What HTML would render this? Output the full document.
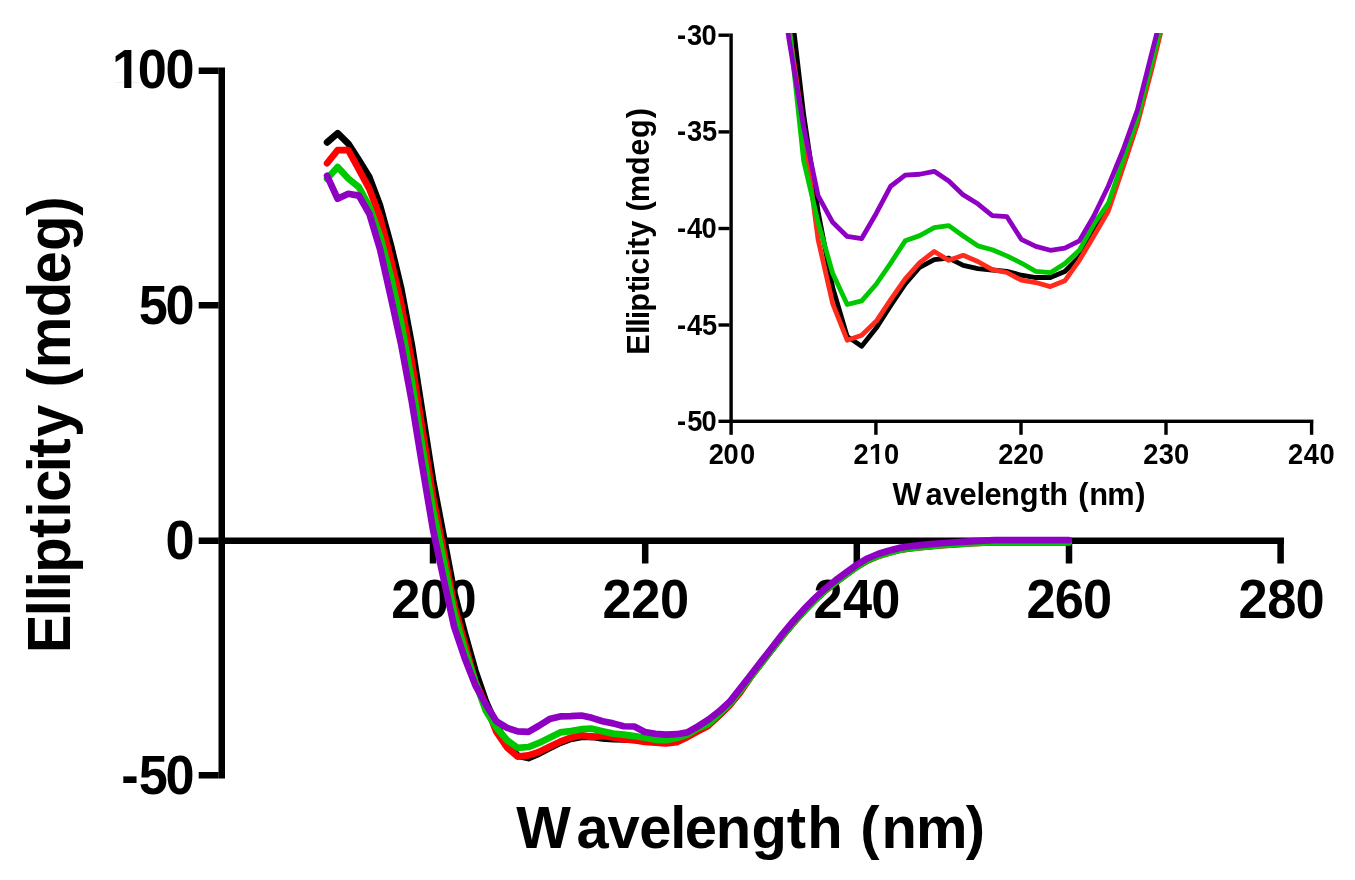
<!DOCTYPE html>
<html lang="en"><head><meta charset="utf-8"><title>Ellipticity vs Wavelength</title>
<style>
html,body{margin:0;padding:0;background:#fff;}
body{width:1355px;height:880px;overflow:hidden;}
svg{display:block;}
text{font-family:"Liberation Sans",Arial,Helvetica,sans-serif;font-weight:bold;fill:#000;}
.cv{fill:none;stroke-linejoin:round;stroke-linecap:round;}
</style></head><body>
<svg width="1355" height="880" viewBox="0 0 1355 880">
<rect width="1355" height="880" fill="#fff"/>
<rect x="218.50" y="67.50" width="6.50" height="711.00" fill="#000"/>
<rect x="218.50" y="537.50" width="1065.50" height="6.50" fill="#000"/>
<rect x="198.70" y="67.50" width="19.90" height="6.50" fill="#000"/>
<rect x="198.70" y="302.00" width="19.90" height="6.50" fill="#000"/>
<rect x="198.70" y="537.50" width="19.90" height="6.50" fill="#000"/>
<rect x="198.70" y="772.00" width="19.90" height="6.50" fill="#000"/>
<rect x="429.75" y="543.90" width="6.50" height="19.60" fill="#000"/>
<rect x="641.95" y="543.90" width="6.50" height="19.60" fill="#000"/>
<rect x="853.55" y="543.90" width="6.50" height="19.60" fill="#000"/>
<rect x="1065.75" y="543.90" width="6.50" height="19.60" fill="#000"/>
<rect x="1277.35" y="543.90" width="6.50" height="19.60" fill="#000"/>
<rect x="729.40" y="33.50" width="3.40" height="401.30" fill="#000"/>
<rect x="718.50" y="419.60" width="594.90" height="3.40" fill="#000"/>
<rect x="718.50" y="33.50" width="11.00" height="3.40" fill="#000"/>
<rect x="718.50" y="130.20" width="11.00" height="3.40" fill="#000"/>
<rect x="718.50" y="226.80" width="11.00" height="3.40" fill="#000"/>
<rect x="718.50" y="323.30" width="11.00" height="3.40" fill="#000"/>
<rect x="874.20" y="422.90" width="3.40" height="11.90" fill="#000"/>
<rect x="1019.30" y="422.90" width="3.40" height="11.90" fill="#000"/>
<rect x="1164.30" y="422.90" width="3.40" height="11.90" fill="#000"/>
<rect x="1309.90" y="422.90" width="3.40" height="11.90" fill="#000"/>
<text transform="translate(112.01 88.30) scale(0.9500 1)" font-size="55.00" x="0.00 27.18 56.34">100</text>
<rect x="114.70" y="82.09" width="9.50" height="7.01" fill="#fff"/>
<rect x="131.37" y="82.09" width="8.84" height="7.01" fill="#fff"/>
<text transform="translate(138.69 323.80) scale(0.9500 1)" font-size="55.00" x="0.00 28.25">50</text>
<text transform="translate(165.53 558.80) scale(0.9500 1)" font-size="55.00" x="0.00">0</text>
<text transform="translate(121.26 793.80) scale(0.9500 1)" font-size="55.00" x="0.00 18.35 46.60">-50</text>
<text transform="translate(391.18 618.20) scale(0.9350 1)" font-size="56.00" x="0.00 30.74 60.26">200</text>
<text transform="translate(602.38 618.20) scale(0.9350 1)" font-size="56.00" x="0.00 31.02 61.65">220</text>
<text transform="translate(813.58 618.20) scale(0.9350 1)" font-size="56.00" x="0.00 31.47 61.65">240</text>
<text transform="translate(1026.58 618.20) scale(0.9350 1)" font-size="56.00" x="0.00 30.16 60.37">260</text>
<text transform="translate(1238.38 618.20) scale(0.9350 1)" font-size="56.00" x="0.00 30.86 61.12">280</text>
<text transform="translate(516.24 848.10) scale(0.9900 1)" font-size="58.50" x="0.00 60.97 92.25 124.34 155.47 170.30 201.66 237.56 273.18 294.05 329.79 347.55 368.93 403.78 454.04">Wavelength (nm)</text>
<text transform="translate(69.60 653.29) rotate(-90) scale(0.9600 1)" font-size="60.50" x="0.00 38.68 54.20 68.89 83.81 120.08 141.39 157.93 188.47 203.83 225.24 258.89 276.87 296.93 350.11 385.12 418.96 455.86">Ellipticity (mdeg)</text>
<text transform="translate(677.03 44.70) scale(0.9000 1)" font-size="30.30" x="0.00 11.15 27.10">-30</text>
<text transform="translate(677.03 141.40) scale(0.9000 1)" font-size="30.30" x="0.00 11.15 27.81">-35</text>
<text transform="translate(677.03 238.00) scale(0.9000 1)" font-size="30.30" x="0.00 11.06 27.10">-40</text>
<text transform="translate(677.03 334.50) scale(0.9000 1)" font-size="30.30" x="0.00 11.06 27.81">-45</text>
<text transform="translate(677.03 430.80) scale(0.9000 1)" font-size="30.30" x="0.00 11.36 27.10">-50</text>
<text transform="translate(708.65 463.50) scale(0.9000 1)" font-size="30.30" x="0.00 16.63 34.74">200</text>
<text transform="translate(853.45 463.50) scale(0.9000 1)" font-size="30.30" x="0.00 17.36 33.85">210</text>
<rect x="870.20" y="459.81" width="5.25" height="4.49" fill="#fff"/>
<rect x="879.19" y="459.81" width="4.90" height="4.49" fill="#fff"/>
<text transform="translate(998.25 463.50) scale(0.9000 1)" font-size="30.30" x="0.00 16.78 33.85">220</text>
<text transform="translate(1143.25 463.50) scale(0.9000 1)" font-size="30.30" x="0.00 17.13 34.30">230</text>
<text transform="translate(1288.05 463.50) scale(0.9000 1)" font-size="30.30" x="0.00 17.37 35.07">240</text>
<text transform="translate(892.47 504.60) scale(0.9850 1)" font-size="31.30" x="0.00 33.43 50.97 68.05 85.36 93.33 110.25 129.20 149.29 159.16 178.28 188.62 199.69 217.97 246.40">Wavelength (nm)</text>
<text transform="translate(649.20 354.65) rotate(-90) scale(0.9900 1)" font-size="31.00" x="0.00 20.82 28.29 35.67 43.26 62.91 72.23 80.66 99.10 107.65 118.20 135.44 144.67 153.87 181.51 200.96 218.78 238.71">Ellipticity (mdeg)</text>
<clipPath id="ic"><rect x="700" y="33.0" width="655" height="420"/></clipPath>
<g class="cv" stroke-width="6.70">
<polyline points="327.06,142.35 337.65,133.20 348.25,143.53 358.84,159.97 369.44,177.35 380.03,205.53 390.62,244.04 401.22,288.52 411.81,344.83 422.41,412.79 433.00,480.33 443.59,536.03 454.19,592.39 464.78,633.16 475.38,670.73 485.97,701.64 496.56,725.36 507.16,743.77 517.75,755.65 528.35,758.05 538.94,753.63 549.53,748.14 560.13,742.87 570.72,738.84 581.32,736.96 591.91,736.58 602.50,738.37 613.10,739.16 623.69,739.49 634.29,739.82 644.88,740.76 655.47,741.32 666.07,741.32 676.66,739.87 687.26,736.35 697.85,730.29 708.44,724.75 719.04,715.35 729.63,704.78 740.23,691.63 750.82,676.37 761.41,662.75 772.01,649.13 782.60,635.51 793.20,622.83 803.79,611.09 814.38,600.28 824.98,590.42 835.57,581.97 846.17,574.22 856.76,566.47 867.35,560.13 877.95,555.66 888.54,552.38 899.14,549.56 909.73,547.91 920.32,546.74 930.92,545.80 941.51,544.86 952.11,544.16 962.70,543.45 973.29,542.75 983.89,542.28 994.48,541.86 1005.08,541.86 1015.67,541.86 1026.26,541.86 1036.86,541.86 1047.45,541.86 1058.05,541.86 1068.64,541.86" stroke="#000000"/>
<polyline points="327.06,163.25 337.65,150.10 348.25,150.10 358.84,169.36 369.44,189.09 380.03,217.27 390.62,258.13 401.22,304.06 411.81,361.69 422.41,429.84 433.00,496.63 443.59,550.87 454.19,605.26 464.78,643.45 475.38,681.77 485.97,705.40 496.56,732.17 507.16,747.67 517.75,756.59 528.35,755.37 538.94,751.99 549.53,746.73 560.13,741.65 570.72,737.71 581.32,734.98 591.91,737.14 602.50,735.92 613.10,737.43 623.69,739.40 634.29,740.10 644.88,741.98 655.47,742.55 666.07,743.53 676.66,742.12 687.26,737.14 697.85,731.23 708.44,725.68 719.04,715.68 729.63,705.25 740.23,692.29 750.82,676.79 761.41,663.17 772.01,649.55 782.60,635.93 793.20,623.25 803.79,611.51 814.38,600.71 824.98,590.84 835.57,582.39 846.17,574.64 856.76,566.89 867.35,560.55 877.95,556.09 888.54,552.80 899.14,549.98 909.73,548.34 920.32,547.16 930.92,546.22 941.51,545.28 952.11,544.58 962.70,543.88 973.29,543.17 983.89,542.70 994.48,542.28 1005.08,542.28 1015.67,542.28 1026.26,542.28 1036.86,542.28 1047.45,542.28 1058.05,542.28 1068.64,542.28" stroke="#ff0000"/>
<polyline points="327.06,178.75 337.65,167.01 348.25,178.52 358.84,187.21 369.44,206.93 380.03,236.05 390.62,275.51 401.22,323.27 411.81,381.51 422.41,447.59 433.00,510.01 443.59,560.64 454.19,612.87 464.78,650.11 475.38,681.77 485.97,711.03 496.56,727.94 507.16,740.29 517.75,747.90 528.35,747.01 538.94,742.97 549.53,737.80 560.13,732.40 570.72,731.13 581.32,729.21 591.91,728.69 602.50,731.23 613.10,733.62 623.69,734.56 634.29,736.06 644.88,737.80 655.47,739.82 666.07,740.15 676.66,737.94 687.26,734.70 697.85,728.36 708.44,723.81 719.04,713.94 729.63,703.85 740.23,690.69 750.82,676.70 761.41,663.08 772.01,649.46 782.60,635.84 793.20,623.16 803.79,611.41 814.38,600.61 824.98,590.75 835.57,582.29 846.17,574.55 856.76,566.80 867.35,560.45 877.95,555.99 888.54,552.71 899.14,549.89 909.73,548.24 920.32,547.07 930.92,546.13 941.51,545.19 952.11,544.49 962.70,543.78 973.29,543.08 983.89,542.61 994.48,542.18 1005.08,542.18 1015.67,542.18 1026.26,542.18 1036.86,542.18 1047.45,542.18 1058.05,542.18 1068.64,542.18" stroke="#00c800"/>
<polyline points="327.06,175.80 337.65,198.72 348.25,193.78 358.84,195.66 369.44,213.98 380.03,249.20 390.62,296.17 401.22,344.83 411.81,401.75 422.41,466.80 433.00,529.69 443.59,578.91 454.19,627.01 464.78,658.29 475.38,685.39 485.97,704.69 496.56,721.46 507.16,727.89 517.75,731.32 528.35,731.84 538.94,725.73 549.53,719.11 560.13,716.39 570.72,716.20 581.32,715.49 591.91,717.84 602.50,721.22 613.10,723.38 623.69,726.25 634.29,726.48 644.88,732.03 655.47,733.76 666.07,734.70 676.66,734.19 687.26,732.40 697.85,726.34 708.44,719.63 719.04,711.45 729.63,701.83 740.23,688.35 750.82,674.73 761.41,661.11 772.01,647.48 782.60,633.86 793.20,621.18 803.79,609.44 814.38,598.64 824.98,588.78 835.57,580.32 846.17,572.57 856.76,564.82 867.35,558.48 877.95,554.02 888.54,550.73 899.14,547.91 909.73,546.27 920.32,545.10 930.92,544.16 941.51,543.22 952.11,542.51 962.70,541.81 973.29,541.10 983.89,540.63 994.48,540.21 1005.08,540.21 1015.67,540.21 1026.26,540.21 1036.86,540.21 1047.45,540.21 1058.05,540.21 1068.64,540.21" stroke="#8e00c2"/>
</g>
<g class="cv" stroke-width="4.80" clip-path="url(#ic)">
<polyline points="774.63,-162.53 789.14,-10.06 803.65,114.43 818.16,211.89 832.67,287.55 847.18,336.38 861.69,346.22 876.20,328.08 890.71,305.50 905.22,283.88 919.73,267.29 934.24,259.57 948.75,258.02 963.26,265.36 977.77,268.64 992.28,269.99 1006.79,271.34 1021.30,275.20 1035.81,277.51 1050.32,277.51 1064.83,271.53 1079.34,257.06 1093.85,232.16 1108.36,207.07 1122.87,166.54 1137.38,122.15 1151.89,66.18 1166.40,6.35" stroke="#000000"/>
<polyline points="774.63,-120.26 789.14,29.51 803.65,129.87 818.16,239.88 832.67,303.57 847.18,340.24 861.69,335.22 876.20,321.33 890.71,299.71 905.22,278.87 919.73,262.65 934.24,251.46 948.75,260.34 963.26,255.32 977.77,261.50 992.28,269.60 1006.79,272.50 1021.30,280.22 1035.81,282.53 1050.32,286.59 1064.83,280.80 1079.34,260.34 1093.85,236.02 1108.36,210.93 1122.87,167.89 1137.38,124.08 1151.89,68.88 1166.40,9.05" stroke="#ff2c1e"/>
<polyline points="774.63,-92.85 789.14,25.65 803.65,160.75 818.16,222.51 832.67,273.27 847.18,304.54 861.69,300.87 876.20,284.27 890.71,263.04 905.22,240.84 919.73,235.63 934.24,227.72 948.75,225.60 963.26,236.02 977.77,245.86 992.28,249.72 1006.79,255.90 1021.30,263.04 1035.81,271.34 1050.32,272.69 1064.83,263.62 1079.34,250.30 1093.85,224.25 1108.36,203.21 1122.87,160.75 1137.38,118.29 1151.89,62.32 1166.40,4.42" stroke="#00c800"/>
<polyline points="774.63,-59.27 789.14,40.51 803.65,126.98 818.16,195.88 832.67,222.32 847.18,236.41 861.69,238.53 876.20,213.44 890.71,186.23 905.22,175.03 919.73,174.26 934.24,171.36 948.75,181.01 963.26,194.91 977.77,203.79 992.28,215.56 1006.79,216.53 1021.30,239.30 1035.81,246.44 1050.32,250.30 1064.83,248.18 1079.34,240.84 1093.85,215.95 1108.36,186.03 1122.87,150.52 1137.38,109.99 1151.89,52.67 1166.40,-4.27" stroke="#8e00c2"/>
</g>
</svg></body></html>
